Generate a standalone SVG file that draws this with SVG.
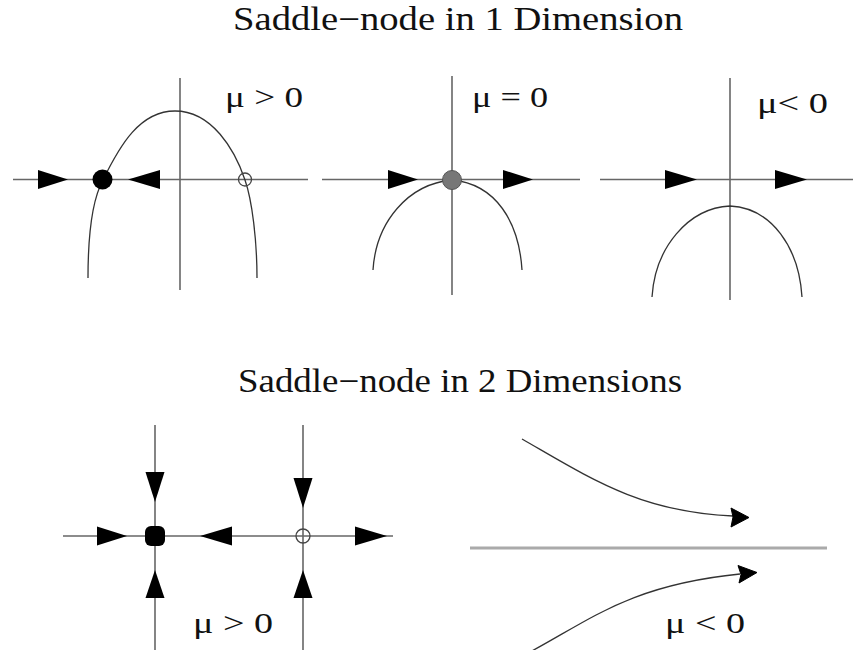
<svg xmlns="http://www.w3.org/2000/svg" width="853" height="650" viewBox="0 0 853 650">
<style>
.ax{stroke:#666;stroke-width:1.6;fill:none}
.cv{stroke:#333;stroke-width:1.3;fill:none}
.ah{fill:#000}
.t{fill:#111}
.ttl{font-size:33px}
.lbl{font-size:30px}
</style>
<rect width="853" height="650" fill="#fff"/>
<text class="t ttl" font-family="Liberation Serif, serif" x="233" y="30" textLength="450" lengthAdjust="spacingAndGlyphs">Saddle−node in 1 Dimension</text>
<text class="t ttl" font-family="Liberation Serif, serif" x="238" y="392" textLength="444" lengthAdjust="spacingAndGlyphs">Saddle−node in 2 Dimensions</text>

<g id="panel1">
<line class="ax" x1="13" y1="179.5" x2="308" y2="179.5"/>
<line class="ax" x1="180" y1="78" x2="180" y2="290"/>
<path class="cv" d="M88,278 C88,240 92,200 103,180 C120,145 140,111 175,111 C212,111 235,150 245,180 C252,200 257,240 257,278"/>
<polygon class="ah" points="38,170 68,179.5 38,189"/>
<polygon class="ah" points="160,170 128,179.5 160,189"/>
<circle cx="102.5" cy="179.5" r="10" fill="#000"/>
<circle cx="245" cy="179.5" r="6.5" fill="none" stroke="#444" stroke-width="1.3"/>
<text class="t lbl" font-family="Liberation Serif, serif" x="225" y="107" textLength="78" lengthAdjust="spacingAndGlyphs">μ &gt; 0</text>
</g>

<g id="panel2">
<line class="ax" x1="322" y1="179.5" x2="580" y2="179.5"/>
<line class="ax" x1="452" y1="76" x2="452" y2="295"/>
<path class="cv" d="M373,270 C376,222 408,184 452,180 C496,184 519,222 522,270"/>
<polygon class="ah" points="388,170 418,179.5 388,189"/>
<polygon class="ah" points="503,170 533,179.5 503,189"/>
<circle cx="452" cy="180" r="9.5" fill="#777" stroke="#555" stroke-width="1"/>
<text class="t lbl" font-family="Liberation Serif, serif" x="472" y="107" textLength="76" lengthAdjust="spacingAndGlyphs">μ = 0</text>
</g>

<g id="panel3">
<line class="ax" x1="600" y1="179.5" x2="853" y2="179.5"/>
<line class="ax" x1="730" y1="78" x2="730" y2="300"/>
<path class="cv" d="M652,297 C655,248 688,208 730,206 C772,208 799,248 802,297"/>
<polygon class="ah" points="665,170 697,179.5 665,189"/>
<polygon class="ah" points="775,170 807,179.5 775,189"/>
<text class="t lbl" font-family="Liberation Serif, serif" x="757" y="113" textLength="71" lengthAdjust="spacingAndGlyphs">μ&lt; 0</text>
</g>

<g id="panel4">
<line class="ax" x1="63" y1="536" x2="393" y2="536"/>
<line class="ax" x1="155" y1="425" x2="155" y2="650"/>
<line class="ax" x1="303" y1="425" x2="303" y2="650"/>
<polygon class="ah" points="97,526.5 127,536 97,545.5"/>
<polygon class="ah" points="232,526.5 200,536 232,545.5"/>
<polygon class="ah" points="355,526.5 387,536 355,545.5"/>
<polygon class="ah" points="145.5,472 155,502 164.5,472"/>
<polygon class="ah" points="145.5,598 155,570 164.5,598"/>
<polygon class="ah" points="293.5,478 303,508 312.5,478"/>
<polygon class="ah" points="293.5,598 303,570 312.5,598"/>
<rect x="145" y="526" width="20" height="20" rx="6" fill="#000"/>
<circle cx="303" cy="536" r="7" fill="none" stroke="#444" stroke-width="1.3"/>
<text class="t lbl" font-family="Liberation Serif, serif" x="193" y="633" textLength="80" lengthAdjust="spacingAndGlyphs">μ &gt; 0</text>
</g>

<g id="panel5">
<line x1="470" y1="548" x2="827" y2="548" stroke="#aaa" stroke-width="3"/>
<path class="cv" d="M522,439 C590,478 640,512 733,516"/>
<path class="cv" d="M530,652 C590,620 630,585 740,574"/>
<polygon class="ah" points="749,517.5 731,508 733,517 731,527" stroke="#000" stroke-width="1" stroke-linejoin="round"/>
<polygon class="ah" points="757,572.5 738,565.5 741,574.5 739,583" stroke="#000" stroke-width="1" stroke-linejoin="round"/>
<text class="t lbl" font-family="Liberation Serif, serif" x="665" y="633" textLength="80" lengthAdjust="spacingAndGlyphs">μ &lt; 0</text>
</g>
</svg>
